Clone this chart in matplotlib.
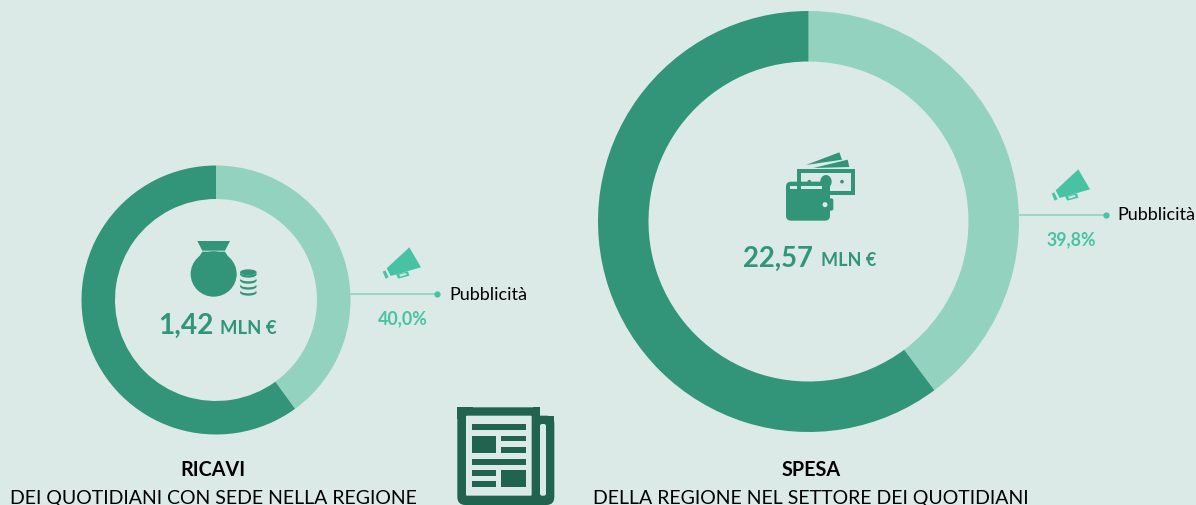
import matplotlib
matplotlib.use("Agg")
import matplotlib.pyplot as plt
from matplotlib.patches import Polygon, Ellipse, FancyBboxPatch, Rectangle

W, H = 1196, 506
BG = "#dbeae6"
DARK = "#329479"
LIGHT = "#92d2bf"
ACCENT = "#47c3a3"
NEWS = "#20634f"

ricavi_values = [40.0, 60.0]
spesa_values = [39.8, 60.2]
ricavi_total = "1,42"
spesa_total = "22,57"
ricavi_pct = "40,0%"
spesa_pct = "39,8%"
unit = "MLN €"
share_label = "Pubblicità"

plt.rcParams["font.family"] = ["Lato", "DejaVu Sans"]

fig = plt.figure(figsize=(W / 100, H / 100), dpi=100, facecolor=BG)
ax = fig.add_axes([0, 0, 1, 1])
ax.set_facecolor(BG)


def Y(py):
    return H - py


def px(size):
    # font size given in pixels
    return size * 0.72


def poly(points, color, ox=0, oy=0, scale=1.0):
    pts = [(ox + x * scale, Y(oy + y * scale)) for x, y in points]
    ax.add_patch(Polygon(pts, closed=True, fc=color, ec="none", zorder=3))


def rect(x0, y0, x1, y1, color, ox=0, oy=0, scale=1 / 3, rounding=0):
    left, right = ox + x0 * scale, ox + x1 * scale
    top, bottom = Y(oy + y0 * scale), Y(oy + y1 * scale)
    if rounding:
        ax.add_patch(FancyBboxPatch((left + rounding, bottom + rounding),
                                    right - left - 2 * rounding, top - bottom - 2 * rounding,
                                    boxstyle=f"round,pad={rounding},rounding_size={rounding}",
                                    fc=color, ec="none", zorder=3))
    else:
        ax.add_patch(Rectangle((left, bottom), right - left, top - bottom, fc=color, ec="none", zorder=3))


def oval(x, y, w, h, color, ox=0, oy=0, scale=1 / 3, z=3):
    ax.add_patch(Ellipse((ox + x * scale, Y(oy + y * scale)), w * scale, h * scale, fc=color, ec="none", zorder=z))


def donut(values, cx, cy, outer, inner):
    ax.pie(values, colors=[LIGHT, DARK], startangle=90, counterclock=False,
           center=(cx, Y(cy)), radius=outer, frame=True,
           wedgeprops=dict(width=outer - inner, edgecolor="none"))


def megaphone(ox, oy):
    s = 1 / 3
    poly([(118, 55), (153, 115), (62, 141), (50, 118)], ACCENT, ox, oy, s)
    poly([(38, 128), (46, 124), (56, 145), (47, 149)], ACCENT, ox, oy, s)
    poly([(78, 136), (114, 127), (118, 140), (85, 149)], ACCENT, ox, oy, s)
    poly([(88, 137), (108, 132), (110, 137), (90, 143)], BG, ox, oy, s)


def label(x, py, text, size, color="black", weight="normal", ha="left"):
    ax.text(x, Y(py), text, fontsize=px(size), color=color, fontweight=weight, va="baseline", ha=ha)


def leader(x0, x1, y, label_x, label_y, pct, pct_x, pct_y):
    ax.plot([x0, x1], [Y(y), Y(y)], color=LIGHT, lw=1.2, zorder=2)
    ax.plot([x1], [Y(y)], "o", color=ACCENT, ms=4.5, mec="none", zorder=3)
    label(label_x, label_y, share_label, 18)
    label(pct_x, pct_y, pct, 17.8, ACCENT, "bold", "center")


def newspaper(ox, oy):
    rect(52, 25, 300, 318, NEWS, ox, oy, rounding=8)
    rect(250, 50, 343, 318, NEWS, ox, oy, rounding=8)
    rect(52, 25, 100, 60, NEWS, ox, oy)
    rect(280, 25, 300, 50, NEWS, ox, oy)
    rect(280, 50, 343, 70, NEWS, ox, oy)
    rect(78, 50, 275, 290, BG, ox, oy, rounding=1)
    rect(300, 75, 318, 290, BG, ox, oy, rounding=2)
    for box in [(95, 75, 257, 93), (95, 110, 167, 162), (184, 110, 257, 127), (184, 145, 257, 162),
                (95, 180, 257, 197), (95, 213, 167, 230), (95, 247, 167, 264), (184, 213, 257, 264)]:
        rect(*box, NEWS, ox, oy)


def wallet(ox, oy):
    s = 1 / 3
    poly([(108, 78), (208, 40), (216, 62)], DARK, ox, oy, s)
    poly([(130, 87), (233, 62), (238, 84)], DARK, ox, oy, s)
    rect(80, 90, 255, 167, DARK, ox, oy)
    rect(93, 103, 243, 155, BG, ox, oy)
    oval(168, 128, 34, 40, DARK, ox, oy)
    oval(216, 128, 11, 11, DARK, ox, oy)
    oval(118, 128, 11, 11, DARK, ox, oy)
    rect(48, 128, 180, 245, DARK, ox, oy, rounding=5)
    rect(60, 140, 80, 150, BG, ox, oy)
    rect(93, 140, 155, 150, BG, ox, oy)
    rect(150, 178, 190, 215, DARK, ox, oy, rounding=2)
    oval(165, 197, 15, 15, BG, ox, oy)


def money_bag(ox, oy):
    s = 1 / 3
    poly([(82, 36), (180, 36), (165, 65), (97, 65)], DARK, ox, oy, s)
    poly([(97, 68), (165, 68), (185, 100), (77, 100)], DARK, ox, oy, s)
    oval(131, 135, 138, 136, DARK, ox, oy)
    for cy in [190, 172, 154, 136]:
        oval(235, cy, 50, 20, DARK, ox, oy, z=4)
        oval(235, cy - 4, 46, 14, BG, ox, oy, z=4)
    oval(235, 130, 50, 18, DARK, ox, oy, z=4)


donut(ricavi_values, 216, 301, 134.5, 101)
donut(spesa_values, 808.5, 222.5, 210.5, 160)

money_bag(170, 230)
wallet(770, 140)
megaphone(370, 230)
megaphone(1039, 152)
newspaper(440, 400)

leader(351, 437, 295, 449, 300, ricavi_pct, 402.5, 324)
leader(1020, 1106, 216, 1117, 220.5, spesa_pct, 1071, 245)

label(158, 333.5, ricavi_total, 28, DARK, "bold")
label(220, 333.5, unit, 18.5, DARK, "bold")
label(743, 266.5, spesa_total, 27.5, DARK, "bold")
label(821, 266.5, unit, 18, DARK, "bold")

label(213, 476, "RICAVI", 19.8, weight="bold", ha="center")
label(213, 504, "DEI QUOTIDIANI CON SEDE NELLA REGIONE", 19.5, ha="center")
label(811, 476, "SPESA", 19.8, weight="bold", ha="center")
label(811, 504, "DELLA REGIONE NEL SETTORE DEI QUOTIDIANI", 19.5, ha="center")

ax.set_xlim(0, W)
ax.set_ylim(0, H)
ax.set_aspect("auto")
ax.axis("off")

fig.savefig("out.png", dpi=100, facecolor=BG)
